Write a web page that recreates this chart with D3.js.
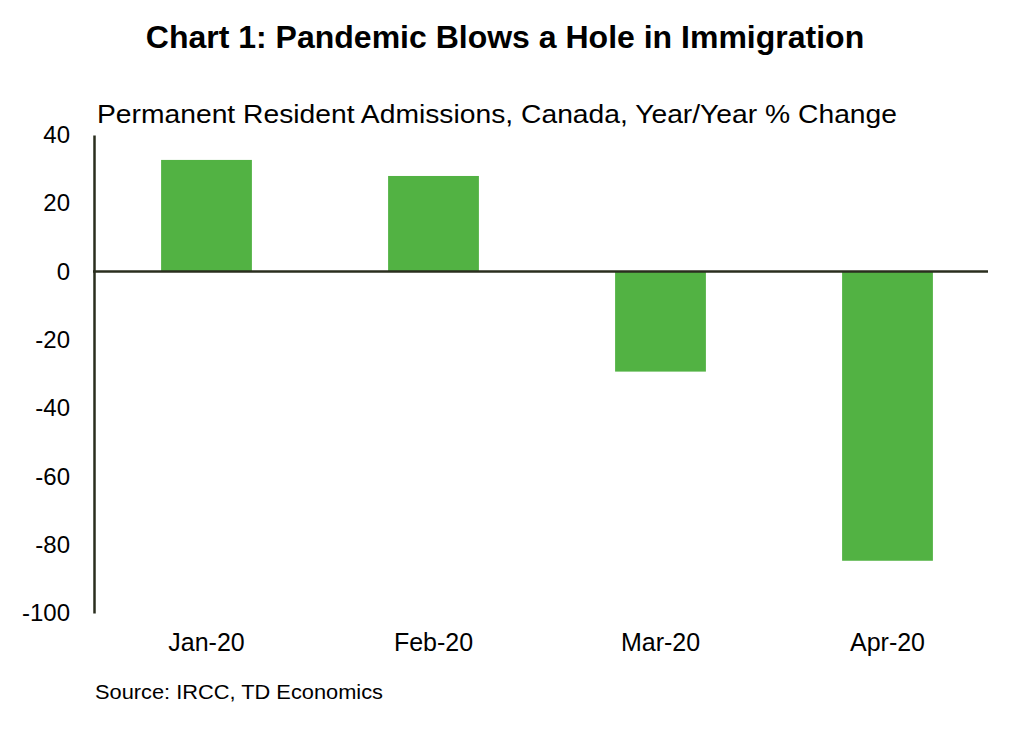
<!DOCTYPE html>
<html><head><meta charset="utf-8">
<script src="https://cdn.jsdelivr.net/npm/d3@7"></script>
<style>body{margin:0;background:#fff;} text{font-family:"Liberation Sans",Arial,sans-serif;fill:#000;}</style>
</head><body>
<svg id="c" width="1010" height="734"></svg>
<script>
const categories = ["Jan-20","Feb-20","Mar-20","Apr-20"];
const values = [32.7, 28.0, -29.3, -84.7];
const yTicks = [40,20,0,-20,-40,-60,-80,-100];
const title = "Chart 1: Pandemic Blows a Hole in Immigration";
const subtitle = "Permanent Resident Admissions, Canada, Year/Year % Change";
const source = "Source: IRCC, TD Economics";

const svg = d3.select("#c");
const y = d3.scaleLinear().domain([-100,40]).range([613,135]);
const x = d3.scaleBand().domain(categories).range([93,1001]).paddingInner(0.6).paddingOuter(0.3);

svg.append("text").attr("x",505).attr("y",48).attr("text-anchor","middle")
  .style("font-size","32px").style("font-weight","bold").text(title);
svg.append("text").attr("x",97).attr("y",123).style("font-size","25px")
  .attr("textLength",800).attr("lengthAdjust","spacingAndGlyphs").text(subtitle);
svg.append("text").attr("x",95).attr("y",699).style("font-size","20px")
  .attr("textLength",288).attr("lengthAdjust","spacingAndGlyphs").text(source);

svg.selectAll("rect.bar").data(values).join("rect").attr("class","bar")
  .attr("x",(d,i)=>x(categories[i])).attr("width",x.bandwidth())
  .attr("y",d=>y(Math.max(0,d))).attr("height",d=>Math.abs(y(d)-y(0)))
  .attr("fill","#52b243");

const ya = svg.append("g").attr("transform","translate(94,0)")
  .call(d3.axisLeft(y).tickValues(yTicks).tickFormat(d=>String(d)).tickSize(0).tickPadding(24));
ya.select(".domain").attr("stroke","#2a2e1e").attr("stroke-width",2.5);
ya.selectAll("text").style("font-size","24px").style("font-family","Liberation Sans, Arial, sans-serif").attr("fill","#000");

svg.append("line").attr("x1",93).attr("x2",988).attr("y1",y(0)).attr("y2",y(0))
  .attr("stroke","#2a2e1e").attr("stroke-width",2.5);

const xa = svg.append("g").attr("transform","translate(0,613)")
  .call(d3.axisBottom(x).tickSize(0).tickPadding(20));
xa.select(".domain").remove();
xa.selectAll("text").style("font-size","25px").style("font-family","Liberation Sans, Arial, sans-serif").attr("fill","#000");
</script>
</body></html>
